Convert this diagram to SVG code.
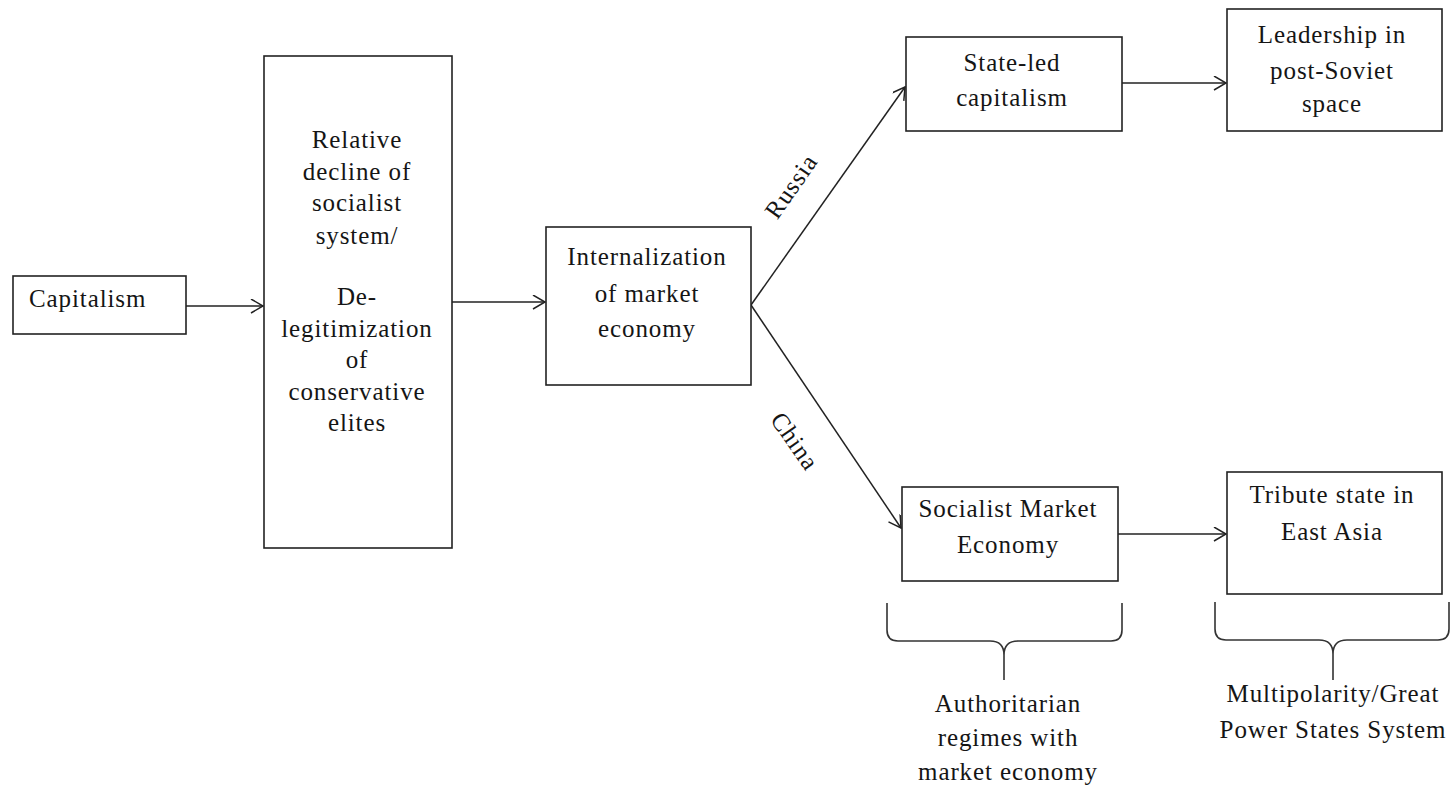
<svg xmlns="http://www.w3.org/2000/svg" width="1452" height="791" viewBox="0 0 1452 791">
  <style>
    .box { fill: #ffffff; stroke: #222222; stroke-width: 1.6; }
    .line { fill: none; stroke: #222222; stroke-width: 1.5; }
    .brace { fill: none; stroke: #333333; stroke-width: 1.6; }
    text { font-family: "Liberation Serif", "Times New Roman", serif; font-size: 25px; fill: #151515; letter-spacing: 0.9px; }
    .c { text-anchor: middle; }
  </style>
  <defs>
    <marker id="arrow" markerUnits="userSpaceOnUse" markerWidth="16" markerHeight="16" refX="13" refY="7" orient="auto">
      <path d="M1,0 L13,7 L1,14" fill="none" stroke="#222222" stroke-width="1.5"/>
    </marker>
  </defs>
  <rect width="1452" height="791" fill="#ffffff"/>

  <!-- connectors -->
  <g id="connectors">
    <line class="line" x1="186" y1="306" x2="263" y2="306" marker-end="url(#arrow)"/>
    <line class="line" x1="452" y1="302" x2="545" y2="302" marker-end="url(#arrow)"/>
    <line class="line" x1="751" y1="305" x2="905" y2="87" marker-end="url(#arrow)"/>
    <line class="line" x1="751" y1="305" x2="901" y2="528" marker-end="url(#arrow)"/>
    <line class="line" x1="1122" y1="83" x2="1226" y2="83" marker-end="url(#arrow)"/>
    <line class="line" x1="1118" y1="534" x2="1226" y2="534" marker-end="url(#arrow)"/>
    <text class="c" transform="translate(798,191) rotate(-55)">Russia</text>
    <text class="c" transform="translate(788,446) rotate(55)">China</text>
  </g>

  <g id="capitalism">
    <rect class="box" x="13" y="276" width="173" height="58"/>
    <text x="29" y="307">Capitalism</text>
  </g>

  <g id="decline">
    <rect class="box" x="264" y="56" width="188" height="492"/>
    <text class="c" x="357" y="148">Relative</text>
    <text class="c" x="357" y="180">decline of</text>
    <text class="c" x="357" y="211">socialist</text>
    <text class="c" x="357" y="244">system/</text>
    <text class="c" x="357" y="305">De-</text>
    <text class="c" x="357" y="337">legitimization</text>
    <text class="c" x="357" y="368">of</text>
    <text class="c" x="357" y="400">conservative</text>
    <text class="c" x="357" y="431">elites</text>
  </g>

  <g id="internalization">
    <rect class="box" x="546" y="227" width="205" height="158"/>
    <text class="c" x="647" y="265">Internalization</text>
    <text class="c" x="647" y="302">of market</text>
    <text class="c" x="647" y="337">economy</text>
  </g>

  <g id="state-led">
    <rect class="box" x="906" y="37" width="216" height="94"/>
    <text class="c" x="1012" y="71">State-led</text>
    <text class="c" x="1012" y="106">capitalism</text>
  </g>

  <g id="leadership">
    <rect class="box" x="1227" y="9" width="215" height="122"/>
    <text class="c" x="1332" y="43">Leadership in</text>
    <text class="c" x="1332" y="79">post-Soviet</text>
    <text class="c" x="1332" y="112">space</text>
  </g>

  <g id="socialist-market">
    <rect class="box" x="902" y="487" width="216" height="94"/>
    <text class="c" x="1008" y="517">Socialist Market</text>
    <text class="c" x="1008" y="553">Economy</text>
  </g>

  <g id="tribute">
    <rect class="box" x="1227" y="472" width="215" height="122"/>
    <text class="c" x="1332" y="503">Tribute state in</text>
    <text class="c" x="1332" y="540">East Asia</text>
  </g>

  <g id="authoritarian-group">
    <path class="brace" d="M887,603 L887,630 Q887,641 898,641 L990,641 Q1004,641 1004,655 L1004,680 M1122,603 L1122,630 Q1122,641 1111,641 L1018,641 Q1004,641 1004,655"/>
    <text class="c" x="1008" y="712">Authoritarian</text>
    <text class="c" x="1008" y="746">regimes with</text>
    <text class="c" x="1008" y="780">market economy</text>
  </g>

  <g id="multipolarity-group">
    <path class="brace" d="M1215,602 L1215,629 Q1215,640 1226,640 L1319,640 Q1333,640 1333,654 L1333,680 M1449,602 L1449,629 Q1449,640 1438,640 L1347,640 Q1333,640 1333,654"/>
    <text class="c" x="1333" y="702">Multipolarity/Great</text>
    <text class="c" x="1333" y="738">Power States System</text>
  </g>
</svg>
